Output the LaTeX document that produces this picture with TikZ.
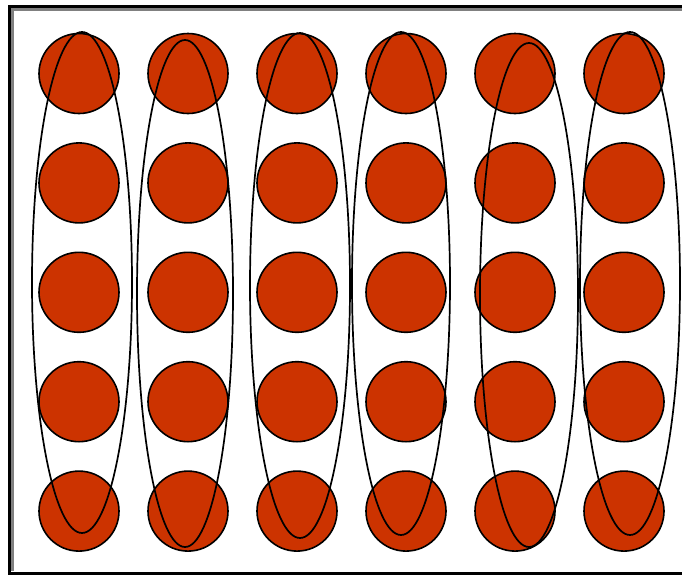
\documentclass[tikz,border=0pt]{standalone}
\usetikzlibrary{shapes.geometric}
\definecolor{ballred}{RGB}{204,51,0}
\definecolor{framegray}{RGB}{128,128,128}
\tikzset{
  ball/.style={circle, draw=black, fill=ballred, line width=1.6pt, minimum size=80pt, inner sep=0pt},
  loop/.style={ellipse, draw=black, line width=1.7pt, inner sep=0pt},
}
\begin{document}
\begin{tikzpicture}[x=1pt,y=-1pt]
\useasboundingbox (0,0) rectangle (682,576);
\clip (0,0) rectangle (682,576);
\fill[white] (0,0) rectangle (682,576);
% window frame
\draw[line width=3pt, black] (720,6.5) -- (9.5,6.5) -- (9.5,573.5) -- (720,573.5);
\draw[line width=3pt, framegray] (720,9.5) -- (12.5,9.5) -- (12.5,570.5);
% balls
\foreach \c in {0,...,5}{
  \foreach \r in {0,...,4}{
    \node[ball] (b\c\r) at ({79+109*\c},{73.5+109.4*\r}) {};
  }
}
% enclosing ellipses
\node[loop, minimum width=100pt, minimum height=501pt] (e1) at (82,282.5) {};
\node[loop, minimum width=96pt, minimum height=507pt] (e2) at (185,293.5) {};
\node[loop, minimum width=100pt, minimum height=505pt] (e3) at (300,285.5) {};
\node[loop, minimum width=98pt, minimum height=503pt] (e4) at (401,283.5) {};
\node[loop, minimum width=98pt, minimum height=504pt] (e5) at (529,295) {};
\node[loop, minimum width=100pt, minimum height=503pt] (e6) at (630,283.5) {};
\end{tikzpicture}
\end{document}
